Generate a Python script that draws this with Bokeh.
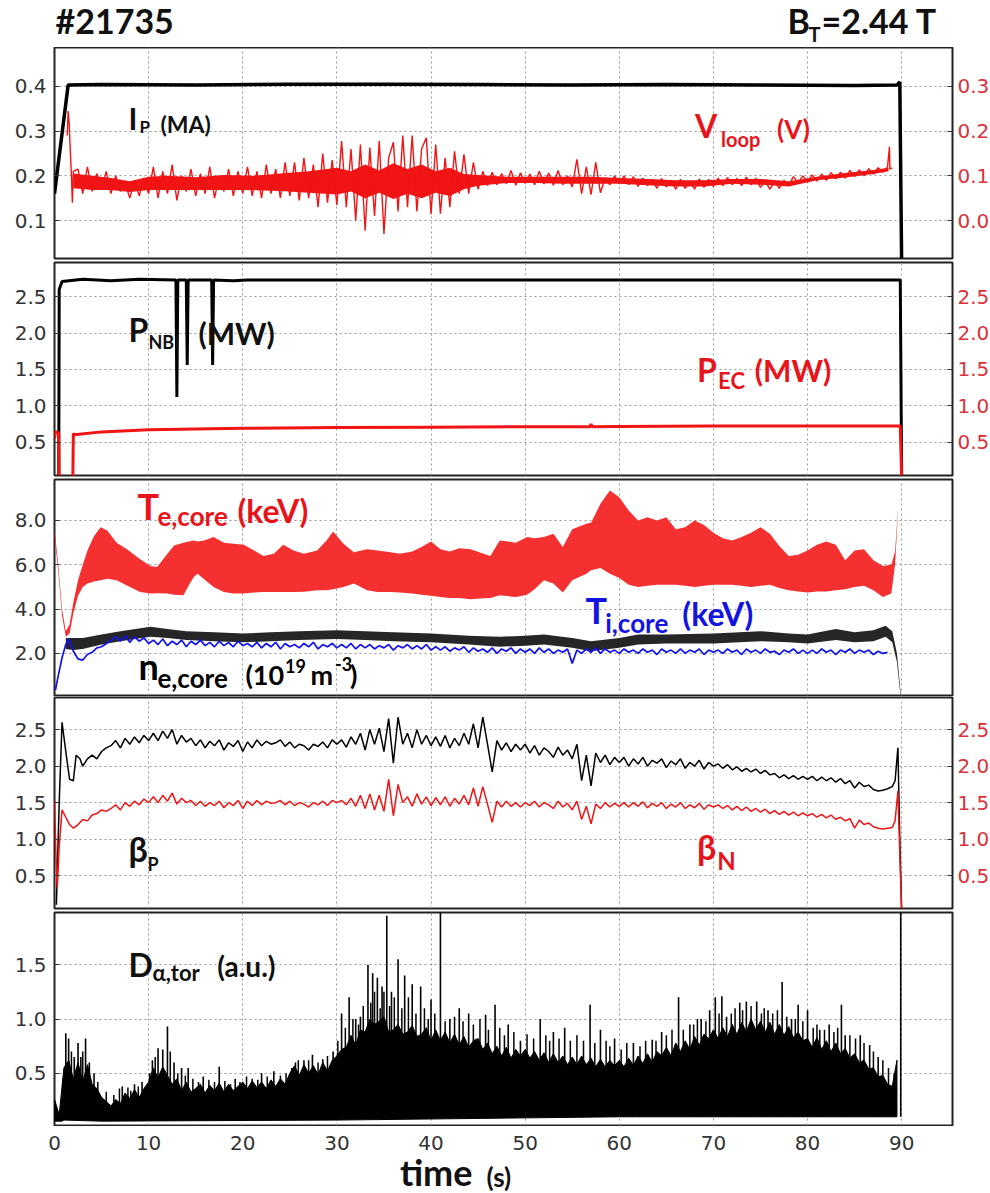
from bokeh.plotting import figure
from bokeh.models import Range1d, LinearAxis, FixedTicker, NumeralTickFormatter, Label
from bokeh.layouts import column
from bokeh.embed import file_html
from bokeh.resources import INLINE

# ---------------- data ----------------
x_ticks = [0, 10, 20, 30, 40, 50, 60, 70, 80, 90]

# panel 1
ip_t = [0.0, 1.45, 5, 15, 25, 35, 45, 55, 65, 75, 85, 89.5, 89.8, 90.0]
ip_v = [0.16, 0.403, 0.404, 0.403, 0.405, 0.405, 0.404, 0.403, 0.404, 0.403, 0.402, 0.403, 0.41, 0.0]
vloop_start_t = [1.35, 1.45, 1.55, 1.65, 1.8, 1.9, 2.0]
vloop_start_v = [0.19, 0.245, 0.22, 0.17, 0.10, 0.04, 0.11]
vloop_t0, vloop_dt = 2.5, 0.5
vloop_v = [0.115, 0.06, 0.12, 0.065, 0.105, 0.07,
           0.11, 0.06, 0.10, 0.065, 0.085, 0.05, 0.09, 0.055, 0.095, 0.06,
           0.12, 0.05, 0.11, 0.06, 0.125, 0.045, 0.10, 0.065, 0.115, 0.055, 0.105, 0.06, 0.12, 0.05, 0.10, 0.065, 0.115, 0.055, 0.11, 0.06,
           0.12, 0.055, 0.11, 0.05, 0.125, 0.06, 0.115, 0.05, 0.13, 0.055,
           0.13, 0.045, 0.14, 0.05, 0.125, 0.03, 0.15, 0.04, 0.135, 0.035,
           0.178, 0.03, 0.16, 0.0, 0.17, -0.023, 0.163, 0.01, 0.178, -0.03,
           0.14, 0.175, 0.02, 0.19, 0.03, 0.19, 0.02, 0.16, 0.185, 0.014,
           0.17, 0.015, 0.14, 0.03, 0.155, 0.06, 0.148, 0.06, 0.13, 0.07,
           0.11, 0.078, 0.108, 0.08, 0.105, 0.082, 0.112, 0.079, 0.107, 0.083,
           0.104, 0.08, 0.11, 0.082, 0.106, 0.079, 0.112, 0.08, 0.10, 0.075,
           0.137, 0.06, 0.12, 0.058, 0.13, 0.062, 0.095, 0.08, 0.10, 0.082,
           0.1, 0.08, 0.098, 0.076, 0.095, 0.078, 0.092, 0.072, 0.094, 0.075,
           0.09, 0.07, 0.092, 0.072, 0.088, 0.07, 0.093, 0.074, 0.092, 0.076,
           0.095, 0.078, 0.096, 0.08, 0.094, 0.078, 0.097, 0.08, 0.095, 0.074,
           0.088, 0.07, 0.087, 0.072, 0.09, 0.078, 0.098, 0.084, 0.1, 0.086,
           0.102, 0.088, 0.104, 0.09, 0.107, 0.093, 0.108, 0.095, 0.112, 0.098,
           0.113, 0.1, 0.116, 0.104, 0.118, 0.108, 0.12]
vloop_end_t = [88.7, 88.75, 89.0]
vloop_end_v = [0.165, 0.115, 0.118]
vloop_band_t = [2, 4, 6, 8, 10, 12, 15, 18, 21, 24, 27, 30, 31.5, 33, 34.5, 36, 37.5, 39, 40.5, 42, 43.5, 45, 48,
                51, 54, 57, 60, 63, 66, 69, 72, 75, 78, 81, 84, 87, 88.6]
vloop_band_hi = [0.105, 0.1, 0.095, 0.088, 0.098, 0.1, 0.097, 0.102, 0.1, 0.105, 0.11, 0.118, 0.11, 0.125, 0.112,
                 0.128, 0.115, 0.125, 0.11, 0.118, 0.104, 0.102, 0.098, 0.098, 0.098, 0.098, 0.095, 0.093, 0.09,
                 0.09, 0.093, 0.093, 0.088, 0.098, 0.106, 0.113, 0.118]
vloop_band_lo = [0.072, 0.068, 0.068, 0.064, 0.068, 0.068, 0.068, 0.068, 0.068, 0.066, 0.062, 0.058, 0.065, 0.05,
                 0.062, 0.048, 0.06, 0.05, 0.062, 0.055, 0.07, 0.078, 0.084, 0.084, 0.082, 0.082, 0.082, 0.079,
                 0.076, 0.076, 0.082, 0.08, 0.076, 0.09, 0.096, 0.104, 0.11]

# panel 2
nbi_t = [0.0, 0.45, 0.5, 0.8, 3, 6, 9, 12.9, 13.0, 13.1, 14.0, 14.1, 14.2, 16.7, 16.8, 16.9, 19, 20.5, 40, 60, 89.85, 90.0]
nbi_v = [0.0, 0.0, 2.6, 2.71, 2.74, 2.72, 2.74, 2.73, 1.12, 2.73, 2.73, 1.56, 2.73, 2.73, 1.56, 2.73, 2.72, 2.73, 2.73, 2.73, 2.73, 0.0]
pec_t = [0.0, 0.1, 0.35, 0.45, 0.5, 1.95, 2.0, 2.1, 5, 10, 20, 30, 40, 50, 56.9, 57.0, 57.1, 60, 70, 80, 89.85, 90.0]
pec_v = [0.55, 0.64, 0.64, 0.6, 0.0, 0.0, 0.62, 0.6, 0.64, 0.67, 0.69, 0.70, 0.705, 0.71, 0.71, 0.75, 0.71, 0.715, 0.72, 0.72, 0.72, 0.0]

# panel 3
te_t = [0.0, 0.4, 0.8, 1.2, 1.6, 2.0, 2.5, 3.0, 3.5, 4.2, 4.9, 5.6, 6.6, 7.7, 9.1, 10.2, 10.9, 12.0, 12.7, 13.7,
        14.3, 14.8, 15.2, 15.9, 16.9, 18.0, 19.0, 20.1, 21.2, 22.2, 23.3, 24.3, 25.4, 26.5, 27.9, 28.9, 29.6, 30.7,
        31.8, 33.2, 34.3, 35.7, 36.7, 38.0, 39.0, 40.0, 41.0, 42.0, 43.0, 44.2, 45.2, 46.3, 47.3, 49.0, 50.2, 51.0,
        52.0, 53.0, 54.0, 55.0, 56.5, 57.0, 58.0, 59.0, 60.0, 61.0, 62.0, 63.0, 64.0, 65.0, 66.0, 67.0, 68.0, 69.0,
        70.0, 71.0, 72.0, 73.0, 74.0, 75.0, 76.0, 77.0, 78.0, 79.0, 80.0, 81.0, 82.0, 83.0, 84.0, 85.0, 86.0, 87.0,
        88.0, 88.9, 89.3, 89.6]
te_hi = [7.6, 6.0, 4.0, 3.0, 3.3, 4.3, 5.3, 6.0, 6.65, 7.3, 7.7, 7.55, 7.0, 6.7, 6.25, 5.95, 5.9, 6.5, 6.87, 7.0,
         7.05, 7.1, 7.05, 7.1, 7.25, 7.0, 6.95, 6.9, 6.65, 6.4, 6.5, 6.9, 6.65, 6.5, 6.65, 7.1, 7.5, 6.95,
         6.57, 6.7, 6.65, 6.57, 6.5, 6.6, 6.8, 7.05, 6.7, 6.6, 6.75, 6.7, 6.55, 6.4, 7.1, 7.0, 7.25, 7.2,
         7.25, 7.4, 6.8, 7.6, 7.85, 7.9, 8.75, 9.35, 9.05, 8.45, 8.0, 8.15, 8.0, 8.15, 7.6, 7.7, 8.0, 7.8,
         7.45, 7.2, 7.1, 7.25, 7.45, 7.7, 7.4, 6.85, 6.4, 6.45, 6.65, 6.9, 7.05, 6.9, 6.2, 6.65, 6.7, 6.2,
         5.95, 6.0, 6.6, 8.45]
te_lo = [7.3, 5.7, 3.7, 2.75, 2.9, 3.8, 4.6, 5.0, 5.15, 5.25, 5.3, 5.37, 5.3, 5.07, 4.77, 4.7, 4.72, 4.7, 4.65, 4.62,
         5.1, 5.45, 5.6, 5.35, 5.0, 4.77, 4.7, 4.7, 4.75, 4.77, 4.77, 4.77, 4.77, 4.78, 4.85, 4.85, 4.9, 5.0,
         5.15, 4.85, 4.77, 4.77, 4.75, 4.7, 4.65, 4.6, 4.55, 4.5, 4.5, 4.45, 4.48, 4.5, 4.62, 4.55, 4.65, 4.9,
         5.3, 5.15, 4.75, 5.3, 5.6, 5.75, 5.85, 5.6, 5.4, 5.1, 5.0, 5.05, 5.1, 5.1, 5.1, 5.05, 5.0, 5.05,
         5.1, 5.1, 5.1, 5.05, 5.0, 5.05, 5.1, 4.95, 4.85, 4.8, 4.75, 4.8, 4.8, 4.85, 4.9, 5.0, 5.05, 4.85,
         4.55, 4.7, 6.0, 8.3]
ne_t = [1.2, 2.0, 3.0, 5.0, 7.0, 10.2, 12.0, 14.0, 17.0, 20.0, 23.0, 26.0, 30.0, 33.0, 36.0, 40.0, 44.0, 47.3,
        50.0, 52.0, 55.0, 57.0, 60.0, 62.0, 65.0, 70.0, 75.0, 78.0, 80.0, 83.0, 85.0, 87.0, 88.3, 89.0, 89.5, 89.9]
ne_hi = [2.7, 2.7, 2.7, 2.85, 3.0, 3.2, 3.1, 3.0, 2.95, 2.9, 2.95, 3.0, 3.05, 3.0, 2.95, 2.9, 2.8, 2.75,
         2.8, 2.85, 2.7, 2.55, 2.7, 2.85, 2.85, 2.9, 3.0, 2.9, 2.85, 3.1, 2.95, 3.05, 3.25, 3.0, 2.0, 0.2]
ne_lo = [2.2, 2.15, 2.2, 2.4, 2.55, 2.75, 2.7, 2.6, 2.55, 2.5, 2.55, 2.6, 2.65, 2.6, 2.55, 2.5, 2.4, 2.3,
         2.35, 2.4, 2.25, 2.1, 2.25, 2.4, 2.45, 2.45, 2.55, 2.5, 2.45, 2.6, 2.5, 2.55, 2.75, 2.5, 1.6, 0.0]
ti_start_t = [0.1, 0.4, 0.8, 1.2, 1.5, 2.0, 2.5, 3.0, 3.5, 4.0, 4.5, 5.0, 5.5]
ti_start_v = [0.35, 1.0, 1.8, 2.4, 2.65, 2.1, 1.75, 1.7, 1.95, 2.05, 2.25, 2.3, 2.45]
ti_t0, ti_dt = 6.0, 0.5
ti_v = [2.6, 2.75, 2.55, 2.8, 2.5, 2.75, 2.55, 2.7, 2.45,
        2.6, 2.4, 2.65, 2.35, 2.55, 2.4, 2.6, 2.3, 2.55, 2.4, 2.6, 2.35, 2.5, 2.3, 2.55, 2.35, 2.5, 2.3, 2.55, 2.35,
        2.45, 2.3, 2.5, 2.25, 2.45, 2.3, 2.5, 2.2, 2.45, 2.3, 2.4, 2.25, 2.45, 2.3, 2.5, 2.2, 2.4, 2.3, 2.45, 2.25,
        2.4, 2.25, 2.45, 2.2, 2.4, 2.25, 2.4, 2.2, 2.35, 2.25, 2.4, 2.15, 2.35, 2.25, 2.4, 2.2, 2.35, 2.2, 2.4, 2.15,
        2.3, 2.15, 2.3, 2.1, 2.25, 2.15, 2.3, 2.05, 2.25, 2.1, 2.2, 2.05, 2.25, 2.0, 2.2, 2.1, 2.25, 2.0, 2.2, 2.05,
        2.2, 2.0, 2.25, 2.05, 2.2, 2.0, 2.15, 2.05, 2.2, 1.55, 2.15, 2.0, 2.2, 2.05, 2.25, 2.0, 2.2, 2.05, 2.15, 2.0,
        2.2, 2.05, 2.15, 2.0, 2.2, 2.05, 2.15, 1.95, 2.2, 2.05, 2.15, 2.0, 2.2, 2.0, 2.15, 2.05, 2.2, 1.95, 2.15, 2.05,
        2.15, 2.0, 2.2, 2.05, 2.15, 1.95, 2.2, 2.05, 2.15, 2.0, 2.2, 2.05, 2.1, 1.95, 2.15, 2.05, 2.2, 2.0, 2.15, 2.0,
        2.15, 2.0, 2.2, 2.05, 2.15, 1.95, 2.15, 2.05, 2.2, 2.0, 2.15, 2.05, 2.15, 1.95, 2.1, 2.0, 2.05]

# panel 4
bp_start_t = [0.2, 0.5, 0.8, 1.2, 1.6, 2.0, 2.3, 2.7, 3.0, 3.5, 4.0, 4.5, 5.0, 5.5]
bp_start_v = [0.1, 1.5, 2.6, 2.2, 1.82, 1.8, 2.15, 2.1, 2.0, 2.1, 2.15, 2.1, 2.2, 2.25]
bp_t0, bp_dt = 6.0, 0.5
bp_v = [2.28, 2.35, 2.25, 2.38, 2.3, 2.4, 2.32, 2.42, 2.35,
        2.45, 2.35, 2.48, 2.38, 2.5, 2.3, 2.42, 2.33, 2.38, 2.28, 2.36, 2.25, 2.34, 2.28, 2.36, 2.22, 2.32, 2.27, 2.35, 2.2,
        2.33, 2.25, 2.36, 2.28, 2.34, 2.3, 2.32, 2.36, 2.27, 2.33, 2.25, 2.3, 2.28, 2.22, 2.3, 2.27, 2.33, 2.25, 2.36, 2.3,
        2.36, 2.26, 2.4, 2.3, 2.45, 2.22, 2.5, 2.3, 2.52, 2.2, 2.65, 2.04, 2.67, 2.3, 2.45, 2.25, 2.5, 2.3, 2.42, 2.28,
        2.4, 2.27, 2.42, 2.25, 2.38, 2.28, 2.45, 2.3, 2.58, 2.25, 2.67, 2.3, 1.92, 2.35, 2.22, 2.32, 2.2, 2.3, 2.22, 2.3,
        2.18, 2.28, 2.15, 2.25, 2.2, 2.12, 2.26, 2.15, 2.22, 2.1, 2.3, 1.8, 2.15, 1.73, 2.18, 2.05, 2.15, 2.02, 2.12, 2.05,
        2.12, 2.0, 2.1, 2.03, 2.12, 2.0, 2.08, 2.04, 2.1, 1.98, 2.07, 2.02, 2.1, 1.97, 2.05, 2.0, 2.08, 1.96, 2.05, 2.0,
        2.03, 1.97, 2.02, 1.95, 1.99, 1.93, 1.97, 1.92, 1.96, 1.9, 1.94, 1.88, 1.9, 1.84, 1.88, 1.83, 1.87, 1.82, 1.86, 1.82,
        1.86, 1.8, 1.85, 1.8, 1.84, 1.78, 1.83, 1.76, 1.8, 1.7, 1.78, 1.72, 1.74, 1.68, 1.66, 1.67, 1.69]
bp_end_t = [89.0, 89.3, 89.6, 89.8, 90.0]
bp_end_v = [1.72, 1.8, 2.25, 1.0, 0.0]
bn_start_t = [0.0, 0.15, 0.3, 0.5, 0.8, 1.2, 1.6, 2.0, 2.5, 3.0, 3.5, 4.0, 4.5, 5.0, 5.5]
bn_start_v = [1.53, 0.8, 0.34, 0.9, 1.4, 1.3, 1.2, 1.15, 1.2, 1.27, 1.25, 1.33, 1.35, 1.4, 1.38]
bn_t0, bn_dt = 6.0, 0.5
bn_v = [1.42, 1.47, 1.4, 1.5, 1.45, 1.52, 1.47, 1.55, 1.5,
        1.58, 1.5, 1.6, 1.52, 1.63, 1.48, 1.56, 1.5, 1.53, 1.46, 1.52, 1.45, 1.5, 1.46, 1.52, 1.43, 1.5, 1.46, 1.53, 1.42,
        1.52, 1.46, 1.53, 1.47, 1.52, 1.49, 1.5, 1.53, 1.47, 1.52, 1.46, 1.5, 1.48, 1.44, 1.5, 1.47, 1.52, 1.46, 1.53, 1.5,
        1.53, 1.47, 1.56, 1.45, 1.6, 1.42, 1.62, 1.4, 1.6, 1.38, 1.82, 1.32, 1.75, 1.5, 1.58, 1.45, 1.62, 1.48, 1.58, 1.46,
        1.57, 1.47, 1.58, 1.45, 1.56, 1.48, 1.6, 1.47, 1.7, 1.45, 1.72, 1.48, 1.23, 1.52, 1.44, 1.52, 1.45, 1.5, 1.44, 1.5,
        1.46, 1.52, 1.44, 1.5, 1.47, 1.42, 1.52, 1.44, 1.49, 1.4, 1.52, 1.27, 1.45, 1.21, 1.48, 1.42, 1.5, 1.44, 1.49, 1.45,
        1.5, 1.44, 1.5, 1.45, 1.51, 1.43, 1.49, 1.45, 1.5, 1.42, 1.48, 1.44, 1.5, 1.42, 1.47, 1.43, 1.49, 1.41, 1.47, 1.44,
        1.47, 1.42, 1.46, 1.4, 1.45, 1.39, 1.44, 1.38, 1.42, 1.37, 1.41, 1.35, 1.39, 1.34, 1.38, 1.33, 1.37, 1.32, 1.36, 1.32,
        1.35, 1.3, 1.34, 1.29, 1.33, 1.27, 1.3, 1.25, 1.28, 1.15, 1.26, 1.2, 1.22, 1.17, 1.15, 1.14, 1.15]
bn_end_t = [89.0, 89.3, 89.6, 89.8, 90.0]
bn_end_v = [1.16, 1.25, 1.66, 0.8, 0.0]

# panel 5
da_t0, da_dt = 0.0, 0.5
da_hi = [0.26, 0.12, 0.55, 0.62, 0.45, 0.6, 0.42, 0.58, 0.4, 0.36,
         0.28, 0.24, 0.2, 0.26, 0.22, 0.32, 0.27, 0.35, 0.28, 0.36,
         0.42, 0.55, 0.46, 0.56, 0.48, 0.4, 0.45, 0.34, 0.42, 0.33,
         0.36, 0.4, 0.32, 0.39, 0.34, 0.41, 0.33, 0.4, 0.34, 0.38,
         0.42, 0.36, 0.43, 0.37, 0.42, 0.36, 0.44, 0.38, 0.45, 0.4,
         0.5, 0.57, 0.48, 0.58, 0.5, 0.57, 0.49, 0.6, 0.52, 0.62,
         0.66, 0.72, 0.74, 0.85, 0.76, 0.9, 0.88, 1.0, 0.95, 0.98,
         1.02, 0.88, 0.9, 0.95, 0.86, 0.88, 0.94, 0.84, 0.86, 0.92,
         0.8, 0.9, 0.8, 0.88, 0.78, 0.86, 0.76, 0.84, 0.74, 0.8,
         0.82, 0.72, 0.78, 0.68, 0.75, 0.66, 0.74, 0.64, 0.72, 0.66,
         0.72, 0.64, 0.7, 0.62, 0.69, 0.6, 0.68, 0.6, 0.66, 0.58,
         0.65, 0.58, 0.66, 0.58, 0.64, 0.56, 0.63, 0.56, 0.62, 0.57,
         0.62, 0.56, 0.64, 0.57, 0.66, 0.59, 0.68, 0.6, 0.7, 0.66,
         0.74, 0.66, 0.78, 0.7, 0.8, 0.72, 0.84, 0.76, 0.86, 0.82,
         0.9, 0.82, 0.92, 0.84, 0.95, 0.86, 0.97, 0.88, 1.0, 0.9,
         0.98, 0.88, 0.97, 0.86, 0.95, 0.85, 0.93, 0.83, 0.88, 0.8,
         0.82, 0.74, 0.83, 0.72, 0.8, 0.7, 0.78, 0.68, 0.73, 0.64,
         0.68, 0.6, 0.62, 0.54, 0.55, 0.47, 0.48, 0.4, 0.38, 0.62]
da_lo_t = [0.0, 0.8, 1.0, 5.0, 30.0, 60.0, 89.5]
da_lo = [0.06, 0.06, 0.07, 0.06, 0.07, 0.1, 0.1]
da_spike_t = [1.2, 1.5, 2.1, 2.5, 2.8, 3.3, 3.7, 4.2, 7.2, 8.5, 9.3, 10.4, 11.0, 11.5, 12.0, 12.7, 13.5, 14.2,
              15.8, 17.5, 19.2, 22.0, 23.3, 25.6, 26.5, 27.4, 28.5, 29.6, 30.5, 31.3, 32.0, 32.5, 33.3, 33.8,
              34.3, 34.8, 35.3, 35.8, 36.5, 37.2, 38.0, 38.9, 40.0, 41.0, 42.0, 43.0, 44.0, 45.8, 46.8, 48.2,
              49.5, 51.6, 53.0, 54.2, 56.9, 58.0, 59.5, 61.5, 63.5, 64.5, 66.3, 67.5, 68.7, 69.6, 70.2, 70.9,
              71.4, 72.8, 73.5, 74.6, 75.8, 77.3, 78.3, 79.0, 80.0, 81.3, 82.3, 83.6, 84.0, 85.6, 86.6, 87.5, 89.9]
da_spike_h = [0.87, 0.82, 0.65, 0.78, 0.65, 0.82, 0.6, 0.5, 0.38, 0.4, 0.42, 0.62, 0.73, 0.72, 0.93, 0.6, 0.55, 0.55,
              0.47, 0.56, 0.45, 0.5, 0.52, 0.6, 0.62, 0.67, 0.63, 0.7, 1.05, 1.2, 1.0, 1.02, 1.5, 1.42,
              1.38, 1.3, 1.95, 1.25, 1.55, 1.4, 1.32, 1.3, 1.18, 2.1, 1.0, 1.1, 1.05, 1.04, 1.13, 0.95,
              0.8, 1.0, 0.88, 0.92, 1.13, 0.9, 0.82, 0.78, 0.81, 0.88, 1.2, 0.95, 1.0, 1.08, 1.2, 1.21,
              1.02, 1.15, 1.16, 1.16, 1.08, 1.34, 1.0, 1.13, 1.08, 0.9, 0.95, 1.13, 0.85, 0.85, 0.76, 0.65, 2.0]
da_minor_t = [0.9, 1.8, 3.0, 4.6, 5.5, 6.3, 6.9, 7.8, 8.1, 8.9, 9.6, 10.1, 10.7, 12.3, 13.1, 13.9, 14.7, 15.3,
              16.4, 17.0, 18.1, 18.7, 19.7, 20.4, 21.0, 21.6, 22.6, 24.0, 24.6, 25.2, 25.9, 27.0, 28.0, 29.0,
              30.1, 30.9, 31.7, 32.3, 32.8, 33.6, 34.0, 34.6, 35.0, 35.6, 36.1, 36.9, 37.6, 38.4, 39.3, 39.7,
              40.4, 41.5, 42.5, 43.4, 44.5, 45.2, 46.1, 47.3, 47.8, 48.8, 50.2, 50.9, 52.2, 52.6, 53.6, 54.8,
              55.5, 56.2, 57.4, 58.6, 59.0, 60.2, 60.8, 62.2, 62.8, 63.9, 65.0, 65.6, 66.8, 67.9, 68.3, 69.2,
              70.6, 71.9, 72.3, 73.1, 74.0, 75.1, 75.4, 76.3, 76.8, 77.8, 78.7, 79.5, 80.6, 81.0, 81.8, 82.8,
              83.2, 84.5, 85.1, 86.0, 87.0, 88.0, 88.6, 89.2]
da_minor_h = [0.45, 0.7, 0.7, 0.42, 0.33, 0.3, 0.36, 0.37, 0.34, 0.38, 0.36, 0.5, 0.65, 0.7, 0.5, 0.48, 0.45, 0.42,
              0.44, 0.42, 0.43, 0.4, 0.42, 0.47, 0.45, 0.44, 0.47, 0.48, 0.5, 0.55, 0.62, 0.62, 0.6, 0.66,
              0.8, 0.92, 1.0, 0.95, 1.12, 1.15, 1.25, 1.1, 1.25, 1.12, 1.2, 1.1, 1.2, 1.05, 1.1, 1.0,
              1.05, 0.98, 1.02, 0.98, 0.95, 1.0, 0.9, 0.92, 0.85, 0.88, 0.86, 0.82, 0.85, 0.8, 0.82, 0.8,
              0.85, 0.8, 0.78, 0.8, 0.75, 0.72, 0.78, 0.75, 0.8, 0.8, 0.85, 0.9, 0.9, 0.95, 1.0, 0.98,
              1.05, 1.05, 1.1, 1.08, 1.12, 1.05, 1.1, 1.05, 1.08, 1.02, 1.0, 0.98, 0.92, 0.95, 0.9, 0.88,
              0.92, 0.85, 0.82, 0.78, 0.7, 0.62, 0.55, 0.5]
da_spike_base = 0.1

# ---------------- styling ----------------
RED = "#f01414"
RED_TXT = "#e8141c"
RED_TICK = "#d8333d"
BLUE = "#1212ee"
BLUE_TXT = "#1414e0"
TICK = "#333333"
FW, LB, RB = 898, 54, 38
xr = Range1d(0, 95.4)


def times(t0, dt, vals):
    return [round(t0 + dt * i, 3) for i in range(len(vals))]


def style_axis(ax, ticks, color, standoff, tick_in=5):
    ax.ticker = FixedTicker(ticks=ticks)
    ax.major_label_text_font = "DejaVu Sans"
    ax.major_label_text_font_size = "20px"
    ax.major_label_text_color = color
    ax.major_tick_in = tick_in
    ax.major_tick_out = 0
    ax.major_tick_line_color = "#333333"
    ax.minor_tick_line_color = None
    ax.axis_line_color = None
    ax.major_label_standoff = standoff


def panel(frame_h, top, bottom, yrange, yticks, right=None, right_range=None):
    p = figure(frame_width=FW, frame_height=frame_h, min_border_left=LB, min_border_right=RB,
               min_border_top=top, min_border_bottom=bottom, x_range=xr,
               y_range=Range1d(*yrange), output_backend="svg", toolbar_location=None,
               x_axis_location=None, y_axis_location="left")
    style_axis(p.yaxis[0], yticks, TICK, 8)
    p.yaxis[0].formatter = NumeralTickFormatter(format="0.0")
    p.xgrid.ticker = FixedTicker(ticks=x_ticks)
    p.ygrid.ticker = FixedTicker(ticks=yticks)
    for g in (p.xgrid[0], p.ygrid[0]):
        g.grid_line_color = "#9a9a9a"
        g.grid_line_dash = "2 3"
        g.grid_line_width = 1
    p.outline_line_color = "#222222"
    p.outline_line_width = 2
    if right is not None:
        name = "default"
        if right_range is not None:
            p.extra_y_ranges = {"r": Range1d(*right_range)}
            name = "r"
        ra = LinearAxis(y_range_name=name)
        style_axis(ra, right, RED_TICK, 5)
        ra.formatter = NumeralTickFormatter(format="0.0")
        p.add_layout(ra, "right")
    return p


def txt(p, x, y, s, size, color, font="Lato", style="bold"):
    p.add_layout(Label(x=x, y=y, text=s, text_font=font, text_font_size=f"{size}px",
                       text_font_style=style, text_color=color, text_baseline="middle"))


# ---------------- header ----------------
head = figure(frame_width=FW, frame_height=47, min_border_left=LB, min_border_right=RB,
              min_border_top=0, min_border_bottom=0, x_range=Range1d(54, 952), y_range=Range1d(0, 47),
              output_backend="svg", toolbar_location=None, x_axis_location=None, y_axis_location=None)
head.grid.visible = False
head.outline_line_color = None
txt(head, 55, 27, "#21735", 34, "#111111")
txt(head, 787, 27, "B", 34, "#111111")
txt(head, 808, 13.5, "T", 20, "#111111")
txt(head, 821, 27, "=2.44 T", 34, "#111111")

# ---------------- panel 1 ----------------
p1 = panel(211, 0, 2, (0.015, 0.487), [0.1, 0.2, 0.3, 0.4], right=[0.0, 0.1, 0.2, 0.3],
           right_range=(-0.085, 0.387))
p1.line(ip_t, ip_v, line_color="black", line_width=3.5)
p1.varea(x=vloop_band_t, y1=vloop_band_lo, y2=vloop_band_hi, fill_color=RED, y_range_name="r")
vl_t = vloop_start_t + times(vloop_t0, vloop_dt, vloop_v) + vloop_end_t
vl_v = vloop_start_v + vloop_v + vloop_end_v
p1.line(vl_t, vl_v, line_color=RED, line_width=1.4, y_range_name="r")
txt(p1, 7.86, 0.3293, "I", 30, "#111111")
txt(p1, 9.02, 0.3103, "P", 17, "#111111")
txt(p1, 11.25, 0.3159, "(MA)", 23, "#111111")
txt(p1, 68.05, 0.3125, "V", 32, RED_TXT)
txt(p1, 70.8, 0.2817, "loop", 20, RED_TXT)
txt(p1, 76.75, 0.3036, "(V)", 26, RED_TXT)

# ---------------- panel 2 ----------------
yt2 = [0.5, 1.0, 1.5, 2.0, 2.5]
p2 = panel(213, 2, 2, (0.04, 2.97), yt2, right=yt2)
p2.line(nbi_t, nbi_v, line_color="black", line_width=3)
p2.line(pec_t, pec_v, line_color=RED, line_width=3)
txt(p2, 7.86, 2.055, "P", 32, "#111111")
txt(p2, 9.98, 1.876, "NBI", 18, "#111111")
txt(p2, 15.29, 2.0, "(MW)", 30, "#111111")
txt(p2, 68.26, 1.505, "P", 32, RED_TXT)
txt(p2, 70.5, 1.347, "EC", 22, RED_TXT)
txt(p2, 74.4, 1.498, "(MW)", 30, RED_TXT)

# ---------------- panel 3 ----------------
p3 = panel(216, 2, 1, (0.1, 9.85), [2.0, 4.0, 6.0, 8.0])
p3.varea(x=ne_t, y1=ne_lo, y2=ne_hi, fill_color="#262626")
ti_all_t = ti_start_t + times(ti_t0, ti_dt, ti_v)
ti_all_v = ti_start_v + ti_v
p3.line(ti_all_t, ti_all_v, line_color=BLUE, line_width=1.7)
p3.varea(x=te_t, y1=te_lo, y2=te_hi, fill_color="#f53030")
txt(p3, 8.81, 8.676, "T", 36, RED_TXT)
txt(p3, 10.93, 8.198, "e,core", 26, RED_TXT)
txt(p3, 19.43, 8.473, "(keV)", 32, RED_TXT)
txt(p3, 8.92, 1.454, "n", 36, "#000000")
txt(p3, 10.93, 0.885, "e,core", 26, "#000000")
txt(p3, 20.28, 1.034, "(10", 27, "#000000")
txt(p3, 24.5, 1.431, "19", 18, "#000000")
txt(p3, 27.2, 1.034, "m", 27, "#000000")
txt(p3, 29.8, 1.52, "-3", 18, "#000000")
txt(p3, 31.4, 1.034, ")", 27, "#000000")
txt(p3, 56.4, 3.937, "T", 36, BLUE_TXT)
txt(p3, 58.5, 3.368, "i,core", 26, BLUE_TXT)
txt(p3, 66.7, 3.779, "(keV)", 32, BLUE_TXT)

# ---------------- panel 4 ----------------
p4 = panel(211, 1, 2, (0.05, 2.94), yt2, right=yt2)
bp_all_t = bp_start_t + times(bp_t0, bp_dt, bp_v) + bp_end_t
bp_all_v = bp_start_v + bp_v + bp_end_v
bn_all_t = bn_start_t + times(bn_t0, bn_dt, bn_v) + bn_end_t
bn_all_v = bn_start_v + bn_v + bn_end_v
p4.line(bp_all_t, bp_all_v, line_color="black", line_width=1.5)
p4.line(bn_all_t, bn_all_v, line_color=RED, line_width=1.5)
txt(p4, 7.86, 0.874, "\u03b2", 34, "#111111")
txt(p4, 9.87, 0.659, "P", 18, "#111111")
txt(p4, 68.26, 0.902, "\u03b2", 34, RED_TXT)
txt(p4, 70.4, 0.707, "N", 24, RED_TXT)

# ---------------- panel 5 ----------------
p5 = panel(213, 2, 1, (0.02, 1.98), [0.5, 1.0, 1.5])
da_t = times(da_t0, da_dt, da_hi)
p5.patch(da_t + da_lo_t[::-1], da_hi + da_lo[::-1], fill_color="black", line_color="black", line_width=1)
p5.segment(x0=da_minor_t, y0=[da_spike_base] * len(da_minor_t), x1=da_minor_t, y1=da_minor_h,
           line_color="black", line_width=1.5)
p5.segment(x0=da_spike_t, y0=[da_spike_base] * len(da_spike_t), x1=da_spike_t, y1=da_spike_h,
           line_color="black", line_width=1.6)
txt(p5, 7.86, 1.506, "D", 32, "#111111")
txt(p5, 10.4, 1.428, "\u03b1,tor", 22, "#111111")
txt(p5, 17.3, 1.492, "(a.u.)", 28, "#111111")

# ---------------- footer with time axis ----------------
foot = figure(frame_width=FW, frame_height=43, min_border_left=LB, min_border_right=RB,
              min_border_top=24, min_border_bottom=0, x_range=xr, y_range=Range1d(0, 43),
              output_backend="svg", toolbar_location=None, x_axis_location="above", y_axis_location=None)
foot.grid.visible = False
foot.outline_line_color = None
style_axis(foot.xaxis[0], x_ticks, TICK, 1, tick_in=0)
txt(foot, 36.7, 21.5, "time", 36, "#111111")
txt(foot, 45.9, 17, "(s)", 26, "#111111")

layout = column(head, p1, p2, p3, p4, p5, foot, spacing=0)
open("out.html", "w").write(file_html(layout, INLINE))
